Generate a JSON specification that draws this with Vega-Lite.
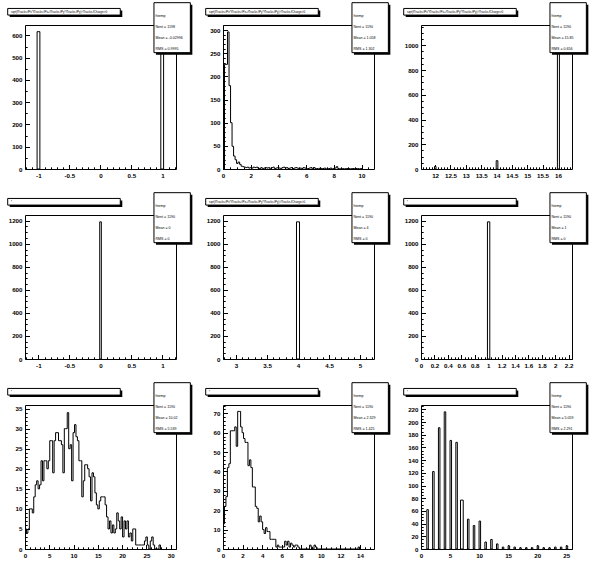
{
"$schema": "https://vega.github.io/schema/vega-lite/v6.json",
"background": "white",
"padding": {"left": 6, "top": 1, "right": 0, "bottom": 0},
"config": {
 "view": {"stroke": "black", "strokeWidth": 1},
 "axis": {"domain": false, "grid": false, "labelFont": "Liberation Sans", "labelFontWeight": "bold", "labelFontSize": 6.2, "labelColor": "black", "tickColor": "black", "tickWidth": 1, "labelPadding": 7.5, "labelFlush": false, "labelOverlap": false, "labelBound": false}
},
"columns": 3,
"spacing": {"row": 46, "column": 47},
"bounds": "flush",
"concat": [
{
 "width": 151, "height": 144,
 "resolve": {"scale": {"x": "independent", "y": "independent"}},
 "layer": [
  {"data": {"values": [{"lo": -1.02, "hi": -0.975, "c": 617}, {"lo": 0.975, "hi": 1.02, "c": 581}]},
   "mark": {"type": "rect", "fill": "white", "stroke": "black", "strokeWidth": 1},
   "encoding": {
    "x": {"field": "lo", "type": "quantitative", "scale": {"domain": [-1.215, 1.22], "nice": false, "zero": false},
     "axis": {"title": null, "values": [-1.2,-1.1,-1,-0.9,-0.8,-0.7,-0.6,-0.5,-0.4,-0.3,-0.2,-0.1,0,0.1,0.2,0.3,0.4,0.5,0.6,0.7,0.8,0.9,1,1.1,1.2],
      "labelExpr": "datum.value % 0.5 == 0 ? '' + datum.value : ''",
      "tickSize": {"condition": {"test": "datum.value % 0.5 == 0", "value": -4.5}, "value": -2.2}}},
    "x2": {"field": "hi"},
    "y": {"field": "c", "type": "quantitative", "scale": {"domain": [0, 647], "nice": false},
     "axis": {"title": null, "values": [0,50,100,150,200,250,300,350,400,450,500,550,600],
      "labelExpr": "datum.value % 100 == 0 ? '' + datum.value : ''",
      "tickSize": {"condition": {"test": "datum.value % 100 == 0", "value": -4.5}, "value": -2.2}}},
    "y2": {"datum": 0}
   }},
  {"data": {"values": [{}]}, "mark": {"type": "rect", "fill": "black", "xOffset": 2, "x2Offset": 2, "yOffset": 2, "y2Offset": 2},
   "encoding": {"x": {"datum": -0.1146, "type": "quantitative", "scale": {"domain": [0, 1], "nice": false}, "axis": null}, "x2": {"datum": 0.631},
    "y": {"datum": 1.115, "type": "quantitative", "scale": {"domain": [0, 1], "nice": false}, "axis": null}, "y2": {"datum": 1.069}}},
  {"data": {"values": [{}]}, "mark": {"type": "rect", "fill": "white", "stroke": "black", "strokeWidth": 1},
   "encoding": {"x": {"datum": -0.1146, "type": "quantitative", "scale": {"domain": [0, 1], "nice": false}, "axis": null}, "x2": {"datum": 0.631},
    "y": {"datum": 1.115, "type": "quantitative", "scale": {"domain": [0, 1], "nice": false}, "axis": null}, "y2": {"datum": 1.069}}},
  {"data": {"values": [{"t": "sqrt(fTracks.fPx*fTracks.fPx+fTracks.fPy*fTracks.fPy):fTracks.fCharge>0"}]}, "mark": {"type": "text", "align": "left", "baseline": "middle", "fontSize": 3, "font": "Liberation Sans"},
   "encoding": {"text": {"field": "t"}, "x": {"datum": -0.093, "type": "quantitative", "scale": {"domain": [0, 1], "nice": false}, "axis": null},
    "y": {"datum": 1.092, "type": "quantitative", "scale": {"domain": [0, 1], "nice": false}, "axis": null}}},
  {"data": {"values": [{}]}, "mark": {"type": "rect", "fill": "black", "xOffset": 2, "x2Offset": 2, "yOffset": 2, "y2Offset": 2},
   "encoding": {"x": {"datum": 0.854, "type": "quantitative", "scale": {"domain": [0, 1], "nice": false}, "axis": null}, "x2": {"datum": 1.095},
    "y": {"datum": 1.155, "type": "quantitative", "scale": {"domain": [0, 1], "nice": false}, "axis": null}, "y2": {"datum": 0.808}}},
  {"data": {"values": [{}]}, "mark": {"type": "rect", "fill": "white", "stroke": "black", "strokeWidth": 1},
   "encoding": {"x": {"datum": 0.854, "type": "quantitative", "scale": {"domain": [0, 1], "nice": false}, "axis": null}, "x2": {"datum": 1.095},
    "y": {"datum": 1.155, "type": "quantitative", "scale": {"domain": [0, 1], "nice": false}, "axis": null}, "y2": {"datum": 0.808}}},
  {"data": {"values": [{"line": 0, "t": "htemp"}, {"line": 1, "t": "Nent = 1198"}, {"line": 2, "t": "Mean = -0.02996"}, {"line": 3, "t": "RMS = 0.9995"}]},
   "mark": {"type": "text", "align": "left", "baseline": "middle", "fontSize": 3.6, "font": "Liberation Sans"},
   "encoding": {"text": {"field": "t"}, "x": {"datum": 0.864, "type": "quantitative", "scale": {"domain": [0, 1], "nice": false}, "axis": null},
    "y": {"field": "line", "type": "quantitative", "scale": {"domain": [0.782, 13.873], "nice": false, "reverse": true}, "axis": null}}}
 ]
},
{
 "width": 151, "height": 144,
 "resolve": {"scale": {"x": "independent", "y": "independent"}},
 "layer": [
  {"data": {"values": [
{"x":0,"c":0},{"x":0.109,"c":226},{"x":0.218,"c":226},{"x":0.327,"c":296},{"x":0.436,"c":180},{"x":0.545,"c":100},{"x":0.654,"c":49},{"x":0.763,"c":28},{"x":0.872,"c":20},{"x":0.981,"c":12},
{"x":1.09,"c":15},{"x":1.199,"c":10},{"x":1.308,"c":6},{"x":1.417,"c":5},{"x":1.526,"c":4},{"x":1.635,"c":3},{"x":1.744,"c":4},{"x":1.853,"c":2},{"x":1.962,"c":3},{"x":2.071,"c":2},
{"x":2.18,"c":4},{"x":2.289,"c":3},{"x":2.398,"c":4},{"x":2.507,"c":2},{"x":2.616,"c":1},{"x":2.725,"c":3},{"x":2.834,"c":1},{"x":2.943,"c":2},{"x":3.052,"c":3},{"x":3.161,"c":2},
{"x":3.27,"c":3},{"x":3.379,"c":0},{"x":3.488,"c":3},{"x":3.597,"c":4},{"x":3.706,"c":1},{"x":3.815,"c":2},{"x":3.924,"c":3},{"x":4.033,"c":2},{"x":4.142,"c":1},{"x":4.251,"c":3},
{"x":4.36,"c":4},{"x":4.469,"c":2},{"x":4.578,"c":3},{"x":4.687,"c":1},{"x":4.796,"c":2},{"x":4.905,"c":3},{"x":5.014,"c":1},{"x":5.123,"c":2},{"x":5.232,"c":3},{"x":5.341,"c":2},
{"x":5.45,"c":1},{"x":5.559,"c":2},{"x":5.668,"c":1},{"x":5.777,"c":3},{"x":5.886,"c":2},{"x":5.995,"c":1},{"x":6.104,"c":1},{"x":6.213,"c":2},{"x":6.322,"c":3},{"x":6.431,"c":0},
{"x":6.54,"c":3},{"x":6.649,"c":1},{"x":6.758,"c":1},{"x":6.867,"c":0},{"x":6.976,"c":2},{"x":7.085,"c":1},{"x":7.194,"c":1},{"x":7.303,"c":2},{"x":7.412,"c":0},{"x":7.521,"c":1},
{"x":7.63,"c":1},{"x":7.739,"c":2},{"x":7.848,"c":0},{"x":7.957,"c":1},{"x":8.066,"c":2},{"x":8.175,"c":5},{"x":8.284,"c":1},{"x":8.393,"c":0},{"x":8.502,"c":1},{"x":8.611,"c":1},
{"x":8.72,"c":0},{"x":8.829,"c":1},{"x":8.938,"c":1},{"x":9.047,"c":1},{"x":9.156,"c":0},{"x":9.265,"c":1},{"x":9.374,"c":1},{"x":9.483,"c":0},{"x":9.592,"c":1},{"x":9.701,"c":1},
{"x":9.81,"c":0},{"x":9.919,"c":1},{"x":10.028,"c":0}]},
   "mark": {"type": "line", "interpolate": "step-after", "color": "black", "strokeWidth": 1},
   "encoding": {
    "x": {"field": "x", "type": "quantitative", "scale": {"domain": [0, 10.9], "nice": false, "zero": false},
     "axis": {"title": null, "values": [0,0.5,1,1.5,2,2.5,3,3.5,4,4.5,5,5.5,6,6.5,7,7.5,8,8.5,9,9.5,10,10.5],
      "labelExpr": "datum.value % 2 == 0 ? '' + datum.value : ''",
      "tickSize": {"condition": {"test": "datum.value % 2 == 0", "value": -4.5}, "value": -2.2}}},
    "y": {"field": "c", "type": "quantitative", "scale": {"domain": [0, 311], "nice": false},
     "axis": {"title": null, "values": [0,10,20,30,40,50,60,70,80,90,100,110,120,130,140,150,160,170,180,190,200,210,220,230,240,250,260,270,280,290,300,310],
      "labelExpr": "datum.value % 50 == 0 ? '' + datum.value : ''",
      "tickSize": {"condition": {"test": "datum.value % 50 == 0", "value": -4.5}, "value": -2.2}}}
   }},
  {"data": {"values": [{}]}, "mark": {"type": "rect", "fill": "black", "xOffset": 2, "x2Offset": 2, "yOffset": 2, "y2Offset": 2},
   "encoding": {"x": {"datum": -0.1146, "type": "quantitative", "scale": {"domain": [0, 1], "nice": false}, "axis": null}, "x2": {"datum": 0.631},
    "y": {"datum": 1.115, "type": "quantitative", "scale": {"domain": [0, 1], "nice": false}, "axis": null}, "y2": {"datum": 1.069}}},
  {"data": {"values": [{}]}, "mark": {"type": "rect", "fill": "white", "stroke": "black", "strokeWidth": 1},
   "encoding": {"x": {"datum": -0.1146, "type": "quantitative", "scale": {"domain": [0, 1], "nice": false}, "axis": null}, "x2": {"datum": 0.631},
    "y": {"datum": 1.115, "type": "quantitative", "scale": {"domain": [0, 1], "nice": false}, "axis": null}, "y2": {"datum": 1.069}}},
  {"data": {"values": [{"t": "sqrt(fTracks.fPx*fTracks.fPx+fTracks.fPy*fTracks.fPy):fTracks.fCharge>0"}]}, "mark": {"type": "text", "align": "left", "baseline": "middle", "fontSize": 3, "font": "Liberation Sans"},
   "encoding": {"text": {"field": "t"}, "x": {"datum": -0.093, "type": "quantitative", "scale": {"domain": [0, 1], "nice": false}, "axis": null},
    "y": {"datum": 1.092, "type": "quantitative", "scale": {"domain": [0, 1], "nice": false}, "axis": null}}},
  {"data": {"values": [{}]}, "mark": {"type": "rect", "fill": "black", "xOffset": 2, "x2Offset": 2, "yOffset": 2, "y2Offset": 2},
   "encoding": {"x": {"datum": 0.854, "type": "quantitative", "scale": {"domain": [0, 1], "nice": false}, "axis": null}, "x2": {"datum": 1.095},
    "y": {"datum": 1.155, "type": "quantitative", "scale": {"domain": [0, 1], "nice": false}, "axis": null}, "y2": {"datum": 0.808}}},
  {"data": {"values": [{}]}, "mark": {"type": "rect", "fill": "white", "stroke": "black", "strokeWidth": 1},
   "encoding": {"x": {"datum": 0.854, "type": "quantitative", "scale": {"domain": [0, 1], "nice": false}, "axis": null}, "x2": {"datum": 1.095},
    "y": {"datum": 1.155, "type": "quantitative", "scale": {"domain": [0, 1], "nice": false}, "axis": null}, "y2": {"datum": 0.808}}},
  {"data": {"values": [{"line": 0, "t": "htemp"}, {"line": 1, "t": "Nent = 1190"}, {"line": 2, "t": "Mean = 1.058"}, {"line": 3, "t": "RMS = 1.302"}]},
   "mark": {"type": "text", "align": "left", "baseline": "middle", "fontSize": 3.6, "font": "Liberation Sans"},
   "encoding": {"text": {"field": "t"}, "x": {"datum": 0.864, "type": "quantitative", "scale": {"domain": [0, 1], "nice": false}, "axis": null},
    "y": {"field": "line", "type": "quantitative", "scale": {"domain": [0.782, 13.873], "nice": false, "reverse": true}, "axis": null}}}
 ]
},
{
 "width": 151, "height": 144,
 "resolve": {"scale": {"x": "independent", "y": "independent"}},
 "layer": [
  {"data": {"values": [{"lo": 11.98, "hi": 12.03, "c": 21}, {"lo": 13.99, "hi": 14.045, "c": 67}, {"lo": 15.985, "hi": 16.05, "c": 1110}]},
   "mark": {"type": "rect", "fill": "white", "stroke": "black", "strokeWidth": 1},
   "encoding": {
    "x": {"field": "lo", "type": "quantitative", "scale": {"domain": [11.54, 16.46], "nice": false, "zero": false},
     "axis": {"title": null, "values": [11.6,11.7,11.8,11.9,12,12.1,12.2,12.3,12.4,12.5,12.6,12.7,12.8,12.9,13,13.1,13.2,13.3,13.4,13.5,13.6,13.7,13.8,13.9,14,14.1,14.2,14.3,14.4,14.5,14.6,14.7,14.8,14.9,15,15.1,15.2,15.3,15.4,15.5,15.6,15.7,15.8,15.9,16,16.1,16.2,16.3,16.4],
      "labelExpr": "datum.value % 0.5 == 0 ? '' + datum.value : ''",
      "tickSize": {"condition": {"test": "datum.value % 0.5 == 0", "value": -4.5}, "value": -2.2}}},
    "x2": {"field": "hi"},
    "y": {"field": "c", "type": "quantitative", "scale": {"domain": [0, 1164], "nice": false},
     "axis": {"title": null, "values": [0,50,100,150,200,250,300,350,400,450,500,550,600,650,700,750,800,850,900,950,1000,1050,1100,1150],
      "labelExpr": "datum.value % 200 == 0 ? '' + datum.value : ''",
      "tickSize": {"condition": {"test": "datum.value % 200 == 0", "value": -4.5}, "value": -2.2}}},
    "y2": {"datum": 0}
   }},
  {"data": {"values": [{}]}, "mark": {"type": "rect", "fill": "black", "xOffset": 2, "x2Offset": 2, "yOffset": 2, "y2Offset": 2},
   "encoding": {"x": {"datum": -0.1146, "type": "quantitative", "scale": {"domain": [0, 1], "nice": false}, "axis": null}, "x2": {"datum": 0.631},
    "y": {"datum": 1.115, "type": "quantitative", "scale": {"domain": [0, 1], "nice": false}, "axis": null}, "y2": {"datum": 1.069}}},
  {"data": {"values": [{}]}, "mark": {"type": "rect", "fill": "white", "stroke": "black", "strokeWidth": 1},
   "encoding": {"x": {"datum": -0.1146, "type": "quantitative", "scale": {"domain": [0, 1], "nice": false}, "axis": null}, "x2": {"datum": 0.631},
    "y": {"datum": 1.115, "type": "quantitative", "scale": {"domain": [0, 1], "nice": false}, "axis": null}, "y2": {"datum": 1.069}}},
  {"data": {"values": [{"t": "sqrt(fTracks.fPx*fTracks.fPx+fTracks.fPy*fTracks.fPy):fTracks.fCharge>0"}]}, "mark": {"type": "text", "align": "left", "baseline": "middle", "fontSize": 3, "font": "Liberation Sans"},
   "encoding": {"text": {"field": "t"}, "x": {"datum": -0.093, "type": "quantitative", "scale": {"domain": [0, 1], "nice": false}, "axis": null},
    "y": {"datum": 1.092, "type": "quantitative", "scale": {"domain": [0, 1], "nice": false}, "axis": null}}},
  {"data": {"values": [{}]}, "mark": {"type": "rect", "fill": "black", "xOffset": 2, "x2Offset": 2, "yOffset": 2, "y2Offset": 2},
   "encoding": {"x": {"datum": 0.854, "type": "quantitative", "scale": {"domain": [0, 1], "nice": false}, "axis": null}, "x2": {"datum": 1.095},
    "y": {"datum": 1.155, "type": "quantitative", "scale": {"domain": [0, 1], "nice": false}, "axis": null}, "y2": {"datum": 0.808}}},
  {"data": {"values": [{}]}, "mark": {"type": "rect", "fill": "white", "stroke": "black", "strokeWidth": 1},
   "encoding": {"x": {"datum": 0.854, "type": "quantitative", "scale": {"domain": [0, 1], "nice": false}, "axis": null}, "x2": {"datum": 1.095},
    "y": {"datum": 1.155, "type": "quantitative", "scale": {"domain": [0, 1], "nice": false}, "axis": null}, "y2": {"datum": 0.808}}},
  {"data": {"values": [{"line": 0, "t": "htemp"}, {"line": 1, "t": "Nent = 1190"}, {"line": 2, "t": "Mean = 15.85"}, {"line": 3, "t": "RMS = 0.656"}]},
   "mark": {"type": "text", "align": "left", "baseline": "middle", "fontSize": 3.6, "font": "Liberation Sans"},
   "encoding": {"text": {"field": "t"}, "x": {"datum": 0.864, "type": "quantitative", "scale": {"domain": [0, 1], "nice": false}, "axis": null},
    "y": {"field": "line", "type": "quantitative", "scale": {"domain": [0.782, 13.873], "nice": false, "reverse": true}, "axis": null}}}
 ]
},
{
 "width": 151, "height": 144,
 "resolve": {"scale": {"x": "independent", "y": "independent"}},
 "layer": [
  {"data": {"values": [{"lo": -0.01, "hi": 0.016, "c": 1190}]},
   "mark": {"type": "rect", "fill": "white", "stroke": "black", "strokeWidth": 1},
   "encoding": {
    "x": {"field": "lo", "type": "quantitative", "scale": {"domain": [-1.215, 1.22], "nice": false, "zero": false},
     "axis": {"title": null, "values": [-1.2,-1.1,-1,-0.9,-0.8,-0.7,-0.6,-0.5,-0.4,-0.3,-0.2,-0.1,0,0.1,0.2,0.3,0.4,0.5,0.6,0.7,0.8,0.9,1,1.1,1.2],
      "labelExpr": "datum.value % 0.5 == 0 ? '' + datum.value : ''",
      "tickSize": {"condition": {"test": "datum.value % 0.5 == 0", "value": -4.5}, "value": -2.2}}},
    "x2": {"field": "hi"},
    "y": {"field": "c", "type": "quantitative", "scale": {"domain": [0, 1249.5], "nice": false},
     "axis": {"title": null, "values": [0,50,100,150,200,250,300,350,400,450,500,550,600,650,700,750,800,850,900,950,1000,1050,1100,1150,1200],
      "labelExpr": "datum.value % 200 == 0 ? '' + datum.value : ''",
      "tickSize": {"condition": {"test": "datum.value % 200 == 0", "value": -4.5}, "value": -2.2}}},
    "y2": {"datum": 0}
   }},
  {"data": {"values": [{}]}, "mark": {"type": "rect", "fill": "black", "xOffset": 2, "x2Offset": 2, "yOffset": 2, "y2Offset": 2},
   "encoding": {"x": {"datum": -0.1146, "type": "quantitative", "scale": {"domain": [0, 1], "nice": false}, "axis": null}, "x2": {"datum": 0.631},
    "y": {"datum": 1.115, "type": "quantitative", "scale": {"domain": [0, 1], "nice": false}, "axis": null}, "y2": {"datum": 1.069}}},
  {"data": {"values": [{}]}, "mark": {"type": "rect", "fill": "white", "stroke": "black", "strokeWidth": 1},
   "encoding": {"x": {"datum": -0.1146, "type": "quantitative", "scale": {"domain": [0, 1], "nice": false}, "axis": null}, "x2": {"datum": 0.631},
    "y": {"datum": 1.115, "type": "quantitative", "scale": {"domain": [0, 1], "nice": false}, "axis": null}, "y2": {"datum": 1.069}}},
  {"data": {"values": [{"t": "'"}]}, "mark": {"type": "text", "align": "left", "baseline": "middle", "fontSize": 5, "font": "Liberation Sans"},
   "encoding": {"text": {"field": "t"}, "x": {"datum": -0.093, "type": "quantitative", "scale": {"domain": [0, 1], "nice": false}, "axis": null},
    "y": {"datum": 1.092, "type": "quantitative", "scale": {"domain": [0, 1], "nice": false}, "axis": null}}},
  {"data": {"values": [{}]}, "mark": {"type": "rect", "fill": "black", "xOffset": 2, "x2Offset": 2, "yOffset": 2, "y2Offset": 2},
   "encoding": {"x": {"datum": 0.854, "type": "quantitative", "scale": {"domain": [0, 1], "nice": false}, "axis": null}, "x2": {"datum": 1.095},
    "y": {"datum": 1.155, "type": "quantitative", "scale": {"domain": [0, 1], "nice": false}, "axis": null}, "y2": {"datum": 0.808}}},
  {"data": {"values": [{}]}, "mark": {"type": "rect", "fill": "white", "stroke": "black", "strokeWidth": 1},
   "encoding": {"x": {"datum": 0.854, "type": "quantitative", "scale": {"domain": [0, 1], "nice": false}, "axis": null}, "x2": {"datum": 1.095},
    "y": {"datum": 1.155, "type": "quantitative", "scale": {"domain": [0, 1], "nice": false}, "axis": null}, "y2": {"datum": 0.808}}},
  {"data": {"values": [{"line": 0, "t": "htemp"}, {"line": 1, "t": "Nent = 1190"}, {"line": 2, "t": "Mean =    0"}, {"line": 3, "t": "RMS =    0"}]},
   "mark": {"type": "text", "align": "left", "baseline": "middle", "fontSize": 3.6, "font": "Liberation Sans"},
   "encoding": {"text": {"field": "t"}, "x": {"datum": 0.864, "type": "quantitative", "scale": {"domain": [0, 1], "nice": false}, "axis": null},
    "y": {"field": "line", "type": "quantitative", "scale": {"domain": [0.782, 13.873], "nice": false, "reverse": true}, "axis": null}}}
 ]
},
{
 "width": 151, "height": 144,
 "resolve": {"scale": {"x": "independent", "y": "independent"}},
 "layer": [
  {"data": {"values": [{"lo": 3.975, "hi": 4.024, "c": 1190}]},
   "mark": {"type": "rect", "fill": "white", "stroke": "black", "strokeWidth": 1},
   "encoding": {
    "x": {"field": "lo", "type": "quantitative", "scale": {"domain": [2.79, 5.225], "nice": false, "zero": false},
     "axis": {"title": null, "values": [2.8,2.9,3,3.1,3.2,3.3,3.4,3.5,3.6,3.7,3.8,3.9,4,4.1,4.2,4.3,4.4,4.5,4.6,4.7,4.8,4.9,5,5.1,5.2],
      "labelExpr": "datum.value % 0.5 == 0 ? '' + datum.value : ''",
      "tickSize": {"condition": {"test": "datum.value % 0.5 == 0", "value": -4.5}, "value": -2.2}}},
    "x2": {"field": "hi"},
    "y": {"field": "c", "type": "quantitative", "scale": {"domain": [0, 1249.5], "nice": false},
     "axis": {"title": null, "values": [0,50,100,150,200,250,300,350,400,450,500,550,600,650,700,750,800,850,900,950,1000,1050,1100,1150,1200],
      "labelExpr": "datum.value % 200 == 0 ? '' + datum.value : ''",
      "tickSize": {"condition": {"test": "datum.value % 200 == 0", "value": -4.5}, "value": -2.2}}},
    "y2": {"datum": 0}
   }},
  {"data": {"values": [{}]}, "mark": {"type": "rect", "fill": "black", "xOffset": 2, "x2Offset": 2, "yOffset": 2, "y2Offset": 2},
   "encoding": {"x": {"datum": -0.1146, "type": "quantitative", "scale": {"domain": [0, 1], "nice": false}, "axis": null}, "x2": {"datum": 0.631},
    "y": {"datum": 1.115, "type": "quantitative", "scale": {"domain": [0, 1], "nice": false}, "axis": null}, "y2": {"datum": 1.069}}},
  {"data": {"values": [{}]}, "mark": {"type": "rect", "fill": "white", "stroke": "black", "strokeWidth": 1},
   "encoding": {"x": {"datum": -0.1146, "type": "quantitative", "scale": {"domain": [0, 1], "nice": false}, "axis": null}, "x2": {"datum": 0.631},
    "y": {"datum": 1.115, "type": "quantitative", "scale": {"domain": [0, 1], "nice": false}, "axis": null}, "y2": {"datum": 1.069}}},
  {"data": {"values": [{"t": "sqrt(fTracks.fPx*fTracks.fPx+fTracks.fPy*fTracks.fPy):fTracks.fCharge>0"}]}, "mark": {"type": "text", "align": "left", "baseline": "middle", "fontSize": 3, "font": "Liberation Sans"},
   "encoding": {"text": {"field": "t"}, "x": {"datum": -0.093, "type": "quantitative", "scale": {"domain": [0, 1], "nice": false}, "axis": null},
    "y": {"datum": 1.092, "type": "quantitative", "scale": {"domain": [0, 1], "nice": false}, "axis": null}}},
  {"data": {"values": [{}]}, "mark": {"type": "rect", "fill": "black", "xOffset": 2, "x2Offset": 2, "yOffset": 2, "y2Offset": 2},
   "encoding": {"x": {"datum": 0.854, "type": "quantitative", "scale": {"domain": [0, 1], "nice": false}, "axis": null}, "x2": {"datum": 1.095},
    "y": {"datum": 1.155, "type": "quantitative", "scale": {"domain": [0, 1], "nice": false}, "axis": null}, "y2": {"datum": 0.808}}},
  {"data": {"values": [{}]}, "mark": {"type": "rect", "fill": "white", "stroke": "black", "strokeWidth": 1},
   "encoding": {"x": {"datum": 0.854, "type": "quantitative", "scale": {"domain": [0, 1], "nice": false}, "axis": null}, "x2": {"datum": 1.095},
    "y": {"datum": 1.155, "type": "quantitative", "scale": {"domain": [0, 1], "nice": false}, "axis": null}, "y2": {"datum": 0.808}}},
  {"data": {"values": [{"line": 0, "t": "htemp"}, {"line": 1, "t": "Nent = 1190"}, {"line": 2, "t": "Mean =    4"}, {"line": 3, "t": "RMS =    0"}]},
   "mark": {"type": "text", "align": "left", "baseline": "middle", "fontSize": 3.6, "font": "Liberation Sans"},
   "encoding": {"text": {"field": "t"}, "x": {"datum": 0.864, "type": "quantitative", "scale": {"domain": [0, 1], "nice": false}, "axis": null},
    "y": {"field": "line", "type": "quantitative", "scale": {"domain": [0.782, 13.873], "nice": false, "reverse": true}, "axis": null}}}
 ]
},
{
 "width": 151, "height": 144,
 "resolve": {"scale": {"x": "independent", "y": "independent"}},
 "layer": [
  {"data": {"values": [{"lo": 0.99, "hi": 1.025, "c": 1190}]},
   "mark": {"type": "rect", "fill": "white", "stroke": "black", "strokeWidth": 1},
   "encoding": {
    "x": {"field": "lo", "type": "quantitative", "scale": {"domain": [0, 2.25], "nice": false, "zero": false},
     "axis": {"title": null, "values": [0,0.05,0.1,0.15,0.2,0.25,0.3,0.35,0.4,0.45,0.5,0.55,0.6,0.65,0.7,0.75,0.8,0.85,0.9,0.95,1,1.05,1.1,1.15,1.2,1.25,1.3,1.35,1.4,1.45,1.5,1.55,1.6,1.65,1.7,1.75,1.8,1.85,1.9,1.95,2,2.05,2.1,2.15,2.2,2.25],
      "labelExpr": "indexof([0,0.2,0.4,0.6,0.8,1,1.2,1.4,1.6,1.8,2,2.2], datum.value) >= 0 ? '' + datum.value : ''",
      "tickSize": {"condition": {"test": "indexof([0,0.2,0.4,0.6,0.8,1,1.2,1.4,1.6,1.8,2,2.2], datum.value) >= 0", "value": -4.5}, "value": -2.2}}},
    "x2": {"field": "hi"},
    "y": {"field": "c", "type": "quantitative", "scale": {"domain": [0, 1249.5], "nice": false},
     "axis": {"title": null, "values": [0,50,100,150,200,250,300,350,400,450,500,550,600,650,700,750,800,850,900,950,1000,1050,1100,1150,1200],
      "labelExpr": "datum.value % 200 == 0 ? '' + datum.value : ''",
      "tickSize": {"condition": {"test": "datum.value % 200 == 0", "value": -4.5}, "value": -2.2}}},
    "y2": {"datum": 0}
   }},
  {"data": {"values": [{}]}, "mark": {"type": "rect", "fill": "black", "xOffset": 2, "x2Offset": 2, "yOffset": 2, "y2Offset": 2},
   "encoding": {"x": {"datum": -0.1146, "type": "quantitative", "scale": {"domain": [0, 1], "nice": false}, "axis": null}, "x2": {"datum": 0.631},
    "y": {"datum": 1.115, "type": "quantitative", "scale": {"domain": [0, 1], "nice": false}, "axis": null}, "y2": {"datum": 1.069}}},
  {"data": {"values": [{}]}, "mark": {"type": "rect", "fill": "white", "stroke": "black", "strokeWidth": 1},
   "encoding": {"x": {"datum": -0.1146, "type": "quantitative", "scale": {"domain": [0, 1], "nice": false}, "axis": null}, "x2": {"datum": 0.631},
    "y": {"datum": 1.115, "type": "quantitative", "scale": {"domain": [0, 1], "nice": false}, "axis": null}, "y2": {"datum": 1.069}}},
  {"data": {"values": [{"t": "'"}]}, "mark": {"type": "text", "align": "left", "baseline": "middle", "fontSize": 5, "font": "Liberation Sans"},
   "encoding": {"text": {"field": "t"}, "x": {"datum": -0.093, "type": "quantitative", "scale": {"domain": [0, 1], "nice": false}, "axis": null},
    "y": {"datum": 1.092, "type": "quantitative", "scale": {"domain": [0, 1], "nice": false}, "axis": null}}},
  {"data": {"values": [{}]}, "mark": {"type": "rect", "fill": "black", "xOffset": 2, "x2Offset": 2, "yOffset": 2, "y2Offset": 2},
   "encoding": {"x": {"datum": 0.854, "type": "quantitative", "scale": {"domain": [0, 1], "nice": false}, "axis": null}, "x2": {"datum": 1.095},
    "y": {"datum": 1.155, "type": "quantitative", "scale": {"domain": [0, 1], "nice": false}, "axis": null}, "y2": {"datum": 0.808}}},
  {"data": {"values": [{}]}, "mark": {"type": "rect", "fill": "white", "stroke": "black", "strokeWidth": 1},
   "encoding": {"x": {"datum": 0.854, "type": "quantitative", "scale": {"domain": [0, 1], "nice": false}, "axis": null}, "x2": {"datum": 1.095},
    "y": {"datum": 1.155, "type": "quantitative", "scale": {"domain": [0, 1], "nice": false}, "axis": null}, "y2": {"datum": 0.808}}},
  {"data": {"values": [{"line": 0, "t": "htemp"}, {"line": 1, "t": "Nent = 1190"}, {"line": 2, "t": "Mean =    1"}, {"line": 3, "t": "RMS =    0"}]},
   "mark": {"type": "text", "align": "left", "baseline": "middle", "fontSize": 3.6, "font": "Liberation Sans"},
   "encoding": {"text": {"field": "t"}, "x": {"datum": 0.864, "type": "quantitative", "scale": {"domain": [0, 1], "nice": false}, "axis": null},
    "y": {"field": "line", "type": "quantitative", "scale": {"domain": [0.782, 13.873], "nice": false, "reverse": true}, "axis": null}}}
 ]
},
{
 "width": 151, "height": 144,
 "resolve": {"scale": {"x": "independent", "y": "independent"}},
 "layer": [
  {"data": {"values": [
{"x":0,"c":5},{"x":0.3,"c":4},{"x":0.6,"c":5},{"x":0.9,"c":10},{"x":1.2,"c":10},{"x":1.5,"c":9},{"x":1.8,"c":13},{"x":2.1,"c":16},{"x":2.4,"c":17},{"x":2.7,"c":15},
{"x":3,"c":16},{"x":3.3,"c":22},{"x":3.6,"c":17},{"x":3.9,"c":22},{"x":4.2,"c":22},{"x":4.5,"c":20},{"x":4.8,"c":22},{"x":5.1,"c":27},{"x":5.4,"c":27},{"x":5.7,"c":19},
{"x":6,"c":27},{"x":6.3,"c":29},{"x":6.6,"c":29},{"x":6.9,"c":27},{"x":7.2,"c":27},{"x":7.5,"c":26},{"x":7.8,"c":19},{"x":8.1,"c":30},{"x":8.4,"c":30},{"x":8.7,"c":34},
{"x":9,"c":25},{"x":9.3,"c":26},{"x":9.6,"c":17},{"x":9.9,"c":29},{"x":10.2,"c":31},{"x":10.5,"c":28},{"x":10.8,"c":27},{"x":11.1,"c":22},{"x":11.4,"c":22},{"x":11.7,"c":13},
{"x":12,"c":17},{"x":12.3,"c":21},{"x":12.6,"c":21},{"x":12.9,"c":20},{"x":13.2,"c":18},{"x":13.5,"c":12},{"x":13.8,"c":19},{"x":14.1,"c":18},{"x":14.4,"c":14},{"x":14.7,"c":11},
{"x":15,"c":10},{"x":15.3,"c":12},{"x":15.6,"c":13},{"x":15.9,"c":13},{"x":16.2,"c":13},{"x":16.5,"c":11},{"x":16.8,"c":8},{"x":17.1,"c":5},{"x":17.4,"c":7},{"x":17.7,"c":4},
{"x":18,"c":6},{"x":18.3,"c":4},{"x":18.6,"c":5},{"x":18.9,"c":9},{"x":19.2,"c":7},{"x":19.5,"c":5},{"x":19.8,"c":8},{"x":20.1,"c":3},{"x":20.4,"c":7},{"x":20.7,"c":5},
{"x":21,"c":7},{"x":21.3,"c":3},{"x":21.6,"c":4},{"x":21.9,"c":2},{"x":22.2,"c":5},{"x":22.5,"c":5},{"x":22.8,"c":1},{"x":23.1,"c":1},{"x":23.4,"c":1},{"x":23.7,"c":1},
{"x":24,"c":1},{"x":24.3,"c":1},{"x":24.6,"c":2},{"x":24.9,"c":3},{"x":25.2,"c":1},{"x":25.5,"c":0},{"x":25.8,"c":2},{"x":26.1,"c":3},{"x":26.4,"c":1},{"x":26.7,"c":0},
{"x":27.6,"c":1},{"x":27.9,"c":0}]},
   "mark": {"type": "line", "interpolate": "step-after", "color": "black", "strokeWidth": 1},
   "encoding": {
    "x": {"field": "x", "type": "quantitative", "scale": {"domain": [0, 31.1], "nice": false, "zero": false},
     "axis": {"title": null, "values": [0,1,2,3,4,5,6,7,8,9,10,11,12,13,14,15,16,17,18,19,20,21,22,23,24,25,26,27,28,29,30,31],
      "labelExpr": "datum.value % 5 == 0 ? '' + datum.value : ''",
      "tickSize": {"condition": {"test": "datum.value % 5 == 0", "value": -4.5}, "value": -2.2}}},
    "y": {"field": "c", "type": "quantitative", "scale": {"domain": [0, 35.9], "nice": false},
     "axis": {"title": null, "values": [0,1,2,3,4,5,6,7,8,9,10,11,12,13,14,15,16,17,18,19,20,21,22,23,24,25,26,27,28,29,30,31,32,33,34,35],
      "labelExpr": "datum.value % 5 == 0 ? '' + datum.value : ''",
      "tickSize": {"condition": {"test": "datum.value % 5 == 0", "value": -4.5}, "value": -2.2}}}
   }},
  {"data": {"values": [{}]}, "mark": {"type": "rect", "fill": "black", "xOffset": 2, "x2Offset": 2, "yOffset": 2, "y2Offset": 2},
   "encoding": {"x": {"datum": -0.1146, "type": "quantitative", "scale": {"domain": [0, 1], "nice": false}, "axis": null}, "x2": {"datum": 0.631},
    "y": {"datum": 1.115, "type": "quantitative", "scale": {"domain": [0, 1], "nice": false}, "axis": null}, "y2": {"datum": 1.069}}},
  {"data": {"values": [{}]}, "mark": {"type": "rect", "fill": "white", "stroke": "black", "strokeWidth": 1},
   "encoding": {"x": {"datum": -0.1146, "type": "quantitative", "scale": {"domain": [0, 1], "nice": false}, "axis": null}, "x2": {"datum": 0.631},
    "y": {"datum": 1.115, "type": "quantitative", "scale": {"domain": [0, 1], "nice": false}, "axis": null}, "y2": {"datum": 1.069}}},
  {"data": {"values": [{"t": "'"}]}, "mark": {"type": "text", "align": "left", "baseline": "middle", "fontSize": 5, "font": "Liberation Sans"},
   "encoding": {"text": {"field": "t"}, "x": {"datum": -0.093, "type": "quantitative", "scale": {"domain": [0, 1], "nice": false}, "axis": null},
    "y": {"datum": 1.092, "type": "quantitative", "scale": {"domain": [0, 1], "nice": false}, "axis": null}}},
  {"data": {"values": [{}]}, "mark": {"type": "rect", "fill": "black", "xOffset": 2, "x2Offset": 2, "yOffset": 2, "y2Offset": 2},
   "encoding": {"x": {"datum": 0.854, "type": "quantitative", "scale": {"domain": [0, 1], "nice": false}, "axis": null}, "x2": {"datum": 1.095},
    "y": {"datum": 1.155, "type": "quantitative", "scale": {"domain": [0, 1], "nice": false}, "axis": null}, "y2": {"datum": 0.808}}},
  {"data": {"values": [{}]}, "mark": {"type": "rect", "fill": "white", "stroke": "black", "strokeWidth": 1},
   "encoding": {"x": {"datum": 0.854, "type": "quantitative", "scale": {"domain": [0, 1], "nice": false}, "axis": null}, "x2": {"datum": 1.095},
    "y": {"datum": 1.155, "type": "quantitative", "scale": {"domain": [0, 1], "nice": false}, "axis": null}, "y2": {"datum": 0.808}}},
  {"data": {"values": [{"line": 0, "t": "htemp"}, {"line": 1, "t": "Nent = 1190"}, {"line": 2, "t": "Mean = 10.02"}, {"line": 3, "t": "RMS = 5.539"}]},
   "mark": {"type": "text", "align": "left", "baseline": "middle", "fontSize": 3.6, "font": "Liberation Sans"},
   "encoding": {"text": {"field": "t"}, "x": {"datum": 0.864, "type": "quantitative", "scale": {"domain": [0, 1], "nice": false}, "axis": null},
    "y": {"field": "line", "type": "quantitative", "scale": {"domain": [0.782, 13.873], "nice": false, "reverse": true}, "axis": null}}}
 ]
},
{
 "width": 151, "height": 144,
 "resolve": {"scale": {"x": "independent", "y": "independent"}},
 "layer": [
  {"data": {"values": [
{"x":0,"c":13},{"x":0.15,"c":22},{"x":0.3,"c":27},{"x":0.45,"c":42},{"x":0.6,"c":44},{"x":0.75,"c":61},{"x":0.9,"c":61},{"x":1.05,"c":61},{"x":1.2,"c":63},{"x":1.35,"c":53},
{"x":1.5,"c":71},{"x":1.65,"c":71},{"x":1.8,"c":63},{"x":1.95,"c":60},{"x":2.1,"c":57},{"x":2.25,"c":55},{"x":2.4,"c":55},{"x":2.55,"c":43},{"x":2.7,"c":46},{"x":2.85,"c":42},
{"x":3,"c":32},{"x":3.15,"c":32},{"x":3.3,"c":22},{"x":3.45,"c":21},{"x":3.6,"c":14},{"x":3.75,"c":17},{"x":3.9,"c":14},{"x":4.05,"c":10},{"x":4.2,"c":8},{"x":4.35,"c":11},
{"x":4.5,"c":9},{"x":4.65,"c":9},{"x":4.8,"c":5},{"x":4.95,"c":5},{"x":5.1,"c":5},{"x":5.25,"c":5},{"x":5.4,"c":1},{"x":5.55,"c":2},{"x":5.7,"c":1},{"x":5.85,"c":1},
{"x":6,"c":1},{"x":6.15,"c":1},{"x":6.3,"c":4},{"x":6.45,"c":2},{"x":6.6,"c":4},{"x":6.75,"c":1},{"x":6.9,"c":3},{"x":7.05,"c":2},{"x":7.2,"c":1},{"x":7.35,"c":2},
{"x":7.5,"c":2},{"x":7.65,"c":1},{"x":7.8,"c":0},{"x":8.85,"c":2},{"x":9,"c":1},{"x":9.15,"c":0},{"x":9.3,"c":2},{"x":9.45,"c":1},{"x":9.6,"c":0},{"x":13.8,"c":1},{"x":13.95,"c":0}]},
   "mark": {"type": "line", "interpolate": "step-after", "color": "black", "strokeWidth": 1},
   "encoding": {
    "x": {"field": "x", "type": "quantitative", "scale": {"domain": [0, 15.43], "nice": false, "zero": false},
     "axis": {"title": null, "values": [0,0.5,1,1.5,2,2.5,3,3.5,4,4.5,5,5.5,6,6.5,7,7.5,8,8.5,9,9.5,10,10.5,11,11.5,12,12.5,13,13.5,14,14.5,15],
      "labelExpr": "datum.value % 2 == 0 ? '' + datum.value : ''",
      "tickSize": {"condition": {"test": "datum.value % 2 == 0", "value": -4.5}, "value": -2.2}}},
    "y": {"field": "c", "type": "quantitative", "scale": {"domain": [0, 74.3], "nice": false},
     "axis": {"title": null, "values": [0,2,4,6,8,10,12,14,16,18,20,22,24,26,28,30,32,34,36,38,40,42,44,46,48,50,52,54,56,58,60,62,64,66,68,70,72,74],
      "labelExpr": "datum.value % 10 == 0 ? '' + datum.value : ''",
      "tickSize": {"condition": {"test": "datum.value % 10 == 0", "value": -4.5}, "value": -2.2}}}
   }},
  {"data": {"values": [{}]}, "mark": {"type": "rect", "fill": "black", "xOffset": 2, "x2Offset": 2, "yOffset": 2, "y2Offset": 2},
   "encoding": {"x": {"datum": -0.1146, "type": "quantitative", "scale": {"domain": [0, 1], "nice": false}, "axis": null}, "x2": {"datum": 0.631},
    "y": {"datum": 1.115, "type": "quantitative", "scale": {"domain": [0, 1], "nice": false}, "axis": null}, "y2": {"datum": 1.069}}},
  {"data": {"values": [{}]}, "mark": {"type": "rect", "fill": "white", "stroke": "black", "strokeWidth": 1},
   "encoding": {"x": {"datum": -0.1146, "type": "quantitative", "scale": {"domain": [0, 1], "nice": false}, "axis": null}, "x2": {"datum": 0.631},
    "y": {"datum": 1.115, "type": "quantitative", "scale": {"domain": [0, 1], "nice": false}, "axis": null}, "y2": {"datum": 1.069}}},
  {"data": {"values": [{"t": "'"}]}, "mark": {"type": "text", "align": "left", "baseline": "middle", "fontSize": 5, "font": "Liberation Sans"},
   "encoding": {"text": {"field": "t"}, "x": {"datum": -0.093, "type": "quantitative", "scale": {"domain": [0, 1], "nice": false}, "axis": null},
    "y": {"datum": 1.092, "type": "quantitative", "scale": {"domain": [0, 1], "nice": false}, "axis": null}}},
  {"data": {"values": [{}]}, "mark": {"type": "rect", "fill": "black", "xOffset": 2, "x2Offset": 2, "yOffset": 2, "y2Offset": 2},
   "encoding": {"x": {"datum": 0.854, "type": "quantitative", "scale": {"domain": [0, 1], "nice": false}, "axis": null}, "x2": {"datum": 1.095},
    "y": {"datum": 1.155, "type": "quantitative", "scale": {"domain": [0, 1], "nice": false}, "axis": null}, "y2": {"datum": 0.808}}},
  {"data": {"values": [{}]}, "mark": {"type": "rect", "fill": "white", "stroke": "black", "strokeWidth": 1},
   "encoding": {"x": {"datum": 0.854, "type": "quantitative", "scale": {"domain": [0, 1], "nice": false}, "axis": null}, "x2": {"datum": 1.095},
    "y": {"datum": 1.155, "type": "quantitative", "scale": {"domain": [0, 1], "nice": false}, "axis": null}, "y2": {"datum": 0.808}}},
  {"data": {"values": [{"line": 0, "t": "htemp"}, {"line": 1, "t": "Nent = 1190"}, {"line": 2, "t": "Mean = 2.329"}, {"line": 3, "t": "RMS = 1.425"}]},
   "mark": {"type": "text", "align": "left", "baseline": "middle", "fontSize": 3.6, "font": "Liberation Sans"},
   "encoding": {"text": {"field": "t"}, "x": {"datum": 0.864, "type": "quantitative", "scale": {"domain": [0, 1], "nice": false}, "axis": null},
    "y": {"field": "line", "type": "quantitative", "scale": {"domain": [0.782, 13.873], "nice": false, "reverse": true}, "axis": null}}}
 ]
},
{
 "width": 151, "height": 144,
 "resolve": {"scale": {"x": "independent", "y": "independent"}},
 "layer": [
  {"data": {"values": [
{"lo":1,"hi":1.26,"c":62},{"lo":2,"hi":2.26,"c":122},{"lo":3,"hi":3.26,"c":191},{"lo":4,"hi":4.26,"c":216},{"lo":5,"hi":5.26,"c":171},{"lo":6,"hi":6.26,"c":168},
{"lo":6.8,"hi":7.27,"c":77},{"lo":8,"hi":8.26,"c":47},{"lo":9,"hi":9.26,"c":37},{"lo":10,"hi":10.26,"c":44},{"lo":11,"hi":11.26,"c":11},{"lo":12,"hi":12.26,"c":15},
{"lo":13,"hi":13.26,"c":8},{"lo":14,"hi":14.26,"c":3},{"lo":15,"hi":15.26,"c":5},{"lo":16,"hi":16.26,"c":3},{"lo":17,"hi":17.26,"c":2},{"lo":18,"hi":18.26,"c":2},
{"lo":19,"hi":19.26,"c":2},{"lo":20,"hi":20.26,"c":5},{"lo":21,"hi":21.26,"c":2},{"lo":22,"hi":22.26,"c":2},{"lo":23,"hi":23.26,"c":3},{"lo":24,"hi":24.26,"c":3},{"lo":25,"hi":25.26,"c":5}]},
   "mark": {"type": "rect", "fill": "white", "stroke": "black", "strokeWidth": 1},
   "encoding": {
    "x": {"field": "lo", "type": "quantitative", "scale": {"domain": [0, 26], "nice": false, "zero": false},
     "axis": {"title": null, "values": [0,1,2,3,4,5,6,7,8,9,10,11,12,13,14,15,16,17,18,19,20,21,22,23,24,25,26],
      "labelExpr": "datum.value % 5 == 0 ? '' + datum.value : ''",
      "tickSize": {"condition": {"test": "datum.value % 5 == 0", "value": -4.5}, "value": -2.2}}},
    "x2": {"field": "hi"},
    "y": {"field": "c", "type": "quantitative", "scale": {"domain": [0, 226.8], "nice": false},
     "axis": {"title": null, "values": [0,5,10,15,20,25,30,35,40,45,50,55,60,65,70,75,80,85,90,95,100,105,110,115,120,125,130,135,140,145,150,155,160,165,170,175,180,185,190,195,200,205,210,215,220,225],
      "labelExpr": "datum.value % 20 == 0 ? '' + datum.value : ''",
      "tickSize": {"condition": {"test": "datum.value % 20 == 0", "value": -4.5}, "value": -2.2}}},
    "y2": {"datum": 0}
   }},
  {"data": {"values": [{}]}, "mark": {"type": "rect", "fill": "black", "xOffset": 2, "x2Offset": 2, "yOffset": 2, "y2Offset": 2},
   "encoding": {"x": {"datum": -0.1146, "type": "quantitative", "scale": {"domain": [0, 1], "nice": false}, "axis": null}, "x2": {"datum": 0.631},
    "y": {"datum": 1.115, "type": "quantitative", "scale": {"domain": [0, 1], "nice": false}, "axis": null}, "y2": {"datum": 1.069}}},
  {"data": {"values": [{}]}, "mark": {"type": "rect", "fill": "white", "stroke": "black", "strokeWidth": 1},
   "encoding": {"x": {"datum": -0.1146, "type": "quantitative", "scale": {"domain": [0, 1], "nice": false}, "axis": null}, "x2": {"datum": 0.631},
    "y": {"datum": 1.115, "type": "quantitative", "scale": {"domain": [0, 1], "nice": false}, "axis": null}, "y2": {"datum": 1.069}}},
  {"data": {"values": [{"t": "'"}]}, "mark": {"type": "text", "align": "left", "baseline": "middle", "fontSize": 5, "font": "Liberation Sans"},
   "encoding": {"text": {"field": "t"}, "x": {"datum": -0.093, "type": "quantitative", "scale": {"domain": [0, 1], "nice": false}, "axis": null},
    "y": {"datum": 1.092, "type": "quantitative", "scale": {"domain": [0, 1], "nice": false}, "axis": null}}},
  {"data": {"values": [{}]}, "mark": {"type": "rect", "fill": "black", "xOffset": 2, "x2Offset": 2, "yOffset": 2, "y2Offset": 2},
   "encoding": {"x": {"datum": 0.854, "type": "quantitative", "scale": {"domain": [0, 1], "nice": false}, "axis": null}, "x2": {"datum": 1.095},
    "y": {"datum": 1.155, "type": "quantitative", "scale": {"domain": [0, 1], "nice": false}, "axis": null}, "y2": {"datum": 0.808}}},
  {"data": {"values": [{}]}, "mark": {"type": "rect", "fill": "white", "stroke": "black", "strokeWidth": 1},
   "encoding": {"x": {"datum": 0.854, "type": "quantitative", "scale": {"domain": [0, 1], "nice": false}, "axis": null}, "x2": {"datum": 1.095},
    "y": {"datum": 1.155, "type": "quantitative", "scale": {"domain": [0, 1], "nice": false}, "axis": null}, "y2": {"datum": 0.808}}},
  {"data": {"values": [{"line": 0, "t": "htemp"}, {"line": 1, "t": "Nent = 1190"}, {"line": 2, "t": "Mean = 5.059"}, {"line": 3, "t": "RMS = 2.291"}]},
   "mark": {"type": "text", "align": "left", "baseline": "middle", "fontSize": 3.6, "font": "Liberation Sans"},
   "encoding": {"text": {"field": "t"}, "x": {"datum": 0.864, "type": "quantitative", "scale": {"domain": [0, 1], "nice": false}, "axis": null},
    "y": {"field": "line", "type": "quantitative", "scale": {"domain": [0.782, 13.873], "nice": false, "reverse": true}, "axis": null}}}
 ]
}
]
}
